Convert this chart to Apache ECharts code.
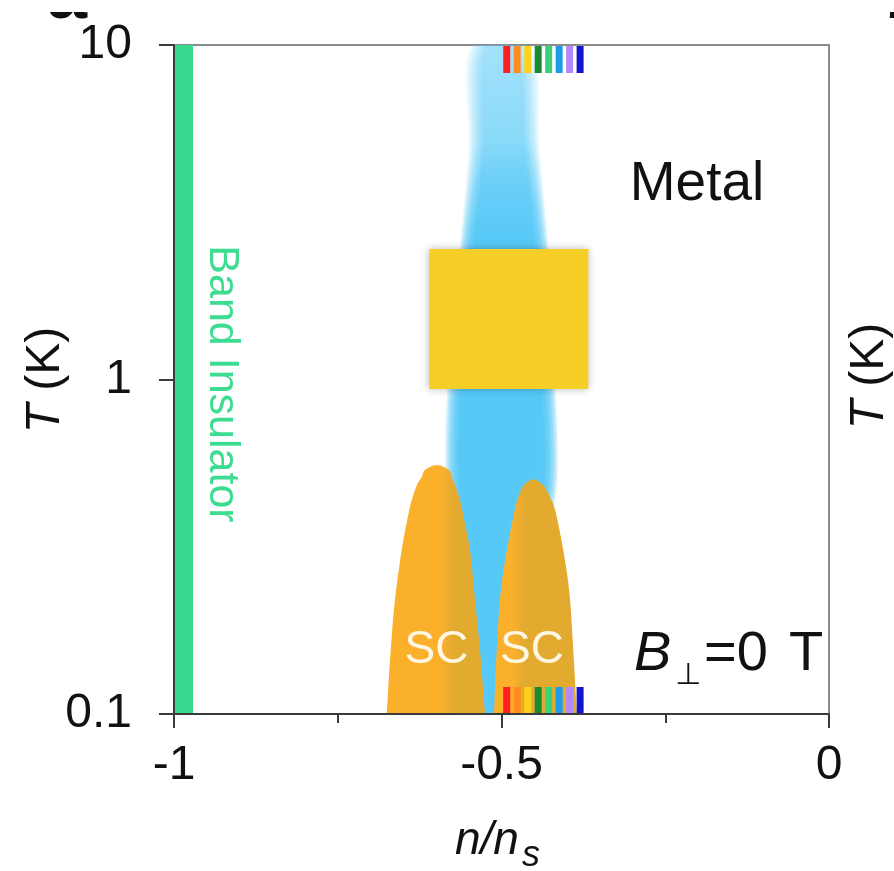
<!DOCTYPE html>
<html>
<head>
<meta charset="utf-8">
<script src="https://cdn.jsdelivr.net/npm/echarts@6/dist/echarts.min.js"></script>
<style>
  html, body { margin: 0; padding: 0; background: #ffffff; }
  #chart { width: 894px; height: 871px; }
</style>
</head>
<body>
<div id="chart"></div>
<script>
// Phase diagram: temperature T vs filling n/ns at B⊥ = 0 T
const FONT = '"Liberation Sans", Arial, Helvetica, sans-serif';

// ---- axes ----
const xMin = -1, xMax = 0, xStep = 0.5;
const yMin = 0.1, yMax = 10;
const yTickLabels = { '0.1': '0.1', '1': '1', '10': '10' };

// ---- band insulator strip (n range) ----
const insulatorN = [-1, -0.971];

// ---- correlated (blue) region: T levels with left / right density edges ----
const blueT     = [10,     4.86,   2.5,    1,      0.5,    0.29,   0.1];
const blueLeft  = [-0.546, -0.550, -0.563, -0.582, -0.585, -0.571, -0.551];
const blueRight = [-0.455, -0.442, -0.429, -0.418, -0.415, -0.434, -0.479];

// ---- superconducting domes: T levels (bottom to top) with left / right edges ----
const scLeftT  = [0.1,     0.155,   0.22,    0.309,   0.38,   0.436,  0.484,  0.511,   0.536,   0.555];
const scLeftLo = [-0.6753, -0.6692, -0.6626, -0.6524, -0.644, -0.637, -0.629, -0.6218, -0.6168, -0.599];
const scLeftHi = [-0.5252, -0.5328, -0.5405, -0.5481, -0.557, -0.5634, -0.571, -0.576, -0.5802, -0.599];

const scRightT  = [0.1,     0.155,   0.2464,  0.389,   0.4516,  0.484,   0.503];
const scRightLo = [-0.5115, -0.5073, -0.4997, -0.482,  -0.4733, -0.4656, -0.4515];
const scRightHi = [-0.3852, -0.3904, -0.398,  -0.4157, -0.4275, -0.4366, -0.4515];

// ---- densities marked by the coloured ticks at top and bottom ----
const markerN = [-0.492, -0.476, -0.460, -0.444, -0.428, -0.412, -0.396, -0.380];
const markerColors = ['#ff1f1f', '#ff8a1e', '#ffd21a', '#178a32', '#3bd17a', '#1c9bea', '#b388ff', '#1414c8'];

// ---- yellow box (n range, T range) ----
const boxN = [-0.6102, -0.3675];
const boxT = [0.937, 2.455];

// ---- in-plot text labels ----
const labelText = ['Metal', 'SC', 'SC', 'Band Insulator'];
const labelN    = [-0.2015, -0.5992, -0.4534, -0.9267];
const labelT    = [3.81, 0.155, 0.155, 0.9695];

// ---- field label anchor (left end) ----
const fieldN = -0.2947;
const fieldT = 0.151;

// styles
const BLUE = [69, 195, 245];
const rgba = (c, a) => `rgba(${c[0]},${c[1]},${c[2]},${a})`;
const labelStyles = [
  { fill: '#111111', fontSize: 55, rotation: 0 },
  { fill: '#fff7e4', fontSize: 46, rotation: 0 },
  { fill: '#fff7e4', fontSize: 46, rotation: 0 },
  { fill: '#3ddc91', fontSize: 43, rotation: -Math.PI / 2 }
];
const domeShades = [
  { light: '#fbb02c', dark: '#e3aa30', s1: 0.55, s2: 0.68 },
  { light: '#fbb02c', dark: '#e3aa30', s1: 0.22, s2: 0.36 }
];

const domes = [
  { T: scLeftT, lo: scLeftLo, hi: scLeftHi },
  { T: scRightT, lo: scRightLo, hi: scRightHi }
];

// Catmull-Rom sampling of an open pixel outline, for a smooth dome edge
function smoothOutline(pts, perSeg) {
  const out = [];
  const n = pts.length;
  const P = i => pts[Math.max(0, Math.min(n - 1, i))];
  for (let i = 0; i < n - 1; i++) {
    const p0 = P(i - 1), p1 = P(i), p2 = P(i + 1), p3 = P(i + 2);
    for (let s = 0; s < perSeg; s++) {
      const t = s / perSeg, t2 = t * t, t3 = t2 * t;
      const f = (a, b, c, d) => 0.5 * ((2 * b) + (-a + c) * t + (2 * a - 5 * b + 4 * c - d) * t2 + (-a + 3 * b - 3 * c + d) * t3);
      out.push([f(p0[0], p1[0], p2[0], p3[0]), f(p0[1], p1[1], p2[1], p3[1])]);
    }
  }
  out.push(pts[n - 1]);
  return out;
}

const chart = echarts.init(document.getElementById('chart'), null, { renderer: 'canvas' });

const option = {
  animation: false,
  backgroundColor: '#ffffff',
  textStyle: { fontFamily: FONT },
  grid: {
    left: 174, right: 65, top: 45, bottom: 157,
    show: true, borderColor: '#8c8c8c', borderWidth: 2, backgroundColor: 'transparent'
  },
  xAxis: {
    type: 'value', min: xMin, max: xMax, interval: xStep, z: 10,
    axisLine: { show: true, onZero: false, lineStyle: { color: '#3a3a3a', width: 2 } },
    axisTick: { show: true, length: 14, lineStyle: { color: '#3a3a3a', width: 2 } },
    minorTick: { show: true, splitNumber: 2, length: 9, lineStyle: { color: '#3a3a3a', width: 2 } },
    splitLine: { show: false },
    axisLabel: {
      margin: 28, fontSize: 48, color: '#111111', fontFamily: FONT,
      formatter: v => (Math.abs(v) < 1e-9 ? '0' : String(v))
    }
  },
  yAxis: {
    type: 'log', logBase: 10, min: yMin, max: yMax, z: 10,
    axisLine: { show: true, onZero: false, lineStyle: { color: '#3a3a3a', width: 2 } },
    axisTick: { show: true, length: 15, lineStyle: { color: '#3a3a3a', width: 2 } },
    minorTick: { show: false },
    splitLine: { show: false },
    axisLabel: {
      margin: 42, fontSize: 48, color: '#111111', fontFamily: FONT,
      formatter: v => {
        const k = String(+v.toPrecision(3));
        return yTickLabels[k] !== undefined ? yTickLabels[k] : '';
      }
    }
  },
  series: [
    // soft blue correlated region
    {
      type: 'custom', z: 1, clip: true,
      data: [[-0.5, 1]],
      renderItem: (params, api) => {
        const layers = 10, step = 1.6, alpha = 0.21;
        const children = [];
        for (let k = 0; k < layers; k++) {
          const inset = k * step;
          const left = [], right = [];
          for (let i = 0; i < blueT.length; i++) {
            const pl = api.coord([blueLeft[i], blueT[i]]);
            const pr = api.coord([blueRight[i], blueT[i]]);
            const mid = (pl[0] + pr[0]) / 2;
            left.push([Math.min(pl[0] + inset, mid - 1), pl[1]]);
            right.push([Math.max(pr[0] - inset, mid + 1), pr[1]]);
          }
          const pts = left.concat(right.reverse());
          children.push({
            type: 'polygon',
            shape: { points: pts, smooth: 0.3 },
            style: {
              fill: {
                type: 'linear', x: 0, y: 0, x2: 0, y2: 1,
                colorStops: [
                  { offset: 0, color: rgba(BLUE, alpha * 0.3) },
                  { offset: 0.15, color: rgba(BLUE, alpha * 0.45) },
                  { offset: 0.3, color: rgba(BLUE, alpha) },
                  { offset: 1, color: rgba(BLUE, alpha) }
                ]
              }
            }
          });
        }
        return { type: 'group', children };
      }
    },
    // band insulator strip
    {
      type: 'custom', z: 2, clip: true,
      data: [[insulatorN[0], yMax, insulatorN[1], yMin]],
      renderItem: (params, api) => {
        const a = api.coord([api.value(0), api.value(1)]);
        const b = api.coord([api.value(2), api.value(3)]);
        return {
          type: 'rect',
          shape: { x: a[0], y: a[1], width: b[0] - a[0], height: b[1] - a[1] },
          style: { fill: '#38d98e' }
        };
      }
    },
    // superconducting domes
    {
      type: 'custom', z: 3, clip: true,
      data: domes.map((d, i) => [d.lo[d.lo.length - 1], d.T[d.T.length - 1], i]),
      renderItem: (params, api) => {
        const d = domes[params.dataIndex];
        const sh = domeShades[params.dataIndex];
        const edge = [];
        for (let k = 0; k < d.T.length; k++) edge.push(api.coord([d.lo[k], d.T[k]]));
        for (let k = d.T.length - 2; k >= 0; k--) edge.push(api.coord([d.hi[k], d.T[k]]));
        const pts = smoothOutline(edge, 8);
        return {
          type: 'polygon',
          shape: { points: pts },
          style: {
            fill: {
              type: 'linear', x: 0, y: 0, x2: 1, y2: 0,
              colorStops: [
                { offset: 0, color: sh.light },
                { offset: sh.s1, color: sh.light },
                { offset: sh.s2, color: sh.dark },
                { offset: 1, color: sh.dark }
              ]
            }
          }
        };
      }
    },
    // coloured density markers at top and bottom edges
    {
      type: 'custom', z: 4, clip: true,
      data: markerN.map((n, i) => [n, yMin, i]),
      renderItem: (params, api) => {
        const n = api.value(0);
        const top = api.coord([n, yMax]);
        const bot = api.coord([n, yMin]);
        const w = 7, h = 27;
        const fill = markerColors[params.dataIndex];
        return {
          type: 'group',
          children: [
            { type: 'rect', shape: { x: top[0] - w / 2, y: top[1] + 1, width: w, height: h }, style: { fill } },
            { type: 'rect', shape: { x: bot[0] - w / 2, y: bot[1] - h, width: w, height: h }, style: { fill } }
          ]
        };
      }
    },
    // yellow box
    {
      type: 'custom', z: 5, clip: true,
      data: [[boxN[0], boxT[1], boxN[1], boxT[0]]],
      renderItem: (params, api) => {
        const a = api.coord([api.value(0), api.value(1)]);
        const b = api.coord([api.value(2), api.value(3)]);
        return {
          type: 'rect',
          shape: { x: a[0], y: a[1], width: b[0] - a[0], height: b[1] - a[1] },
          style: { fill: '#f5cf27', shadowBlur: 8, shadowColor: 'rgba(0,0,0,0.28)' }
        };
      }
    },
    // text labels inside the plot
    {
      type: 'custom', z: 6, clip: false,
      data: labelText.map((t, i) => [labelN[i], labelT[i], i]),
      renderItem: (params, api) => {
        const i = params.dataIndex;
        const p = api.coord([api.value(0), api.value(1)]);
        const st = labelStyles[i];
        return {
          type: 'text', x: p[0], y: p[1], rotation: st.rotation,
          style: {
            text: labelText[i], fill: st.fill, fontSize: st.fontSize, fontFamily: FONT,
            align: 'center', verticalAlign: 'middle'
          }
        };
      }
    },
    // field label B⊥=0 T
    {
      type: 'custom', z: 6, clip: false,
      data: [[fieldN, fieldT]],
      renderItem: (params, api) => {
        const p = api.coord([api.value(0), api.value(1)]);
        return {
          type: 'group', x: p[0], y: p[1],
          children: [
            { type: 'text', x: -2, y: 0, style: { text: 'B', fill: '#111', fontSize: 56, fontStyle: 'italic', fontFamily: FONT, align: 'left', verticalAlign: 'middle' } },
            { type: 'text', x: 39, y: 22, style: { text: '\u22A5', fill: '#111', fontSize: 30, fontFamily: '"DejaVu Sans", sans-serif', align: 'left', verticalAlign: 'middle' } },
            { type: 'text', x: 68, y: 0, style: { text: '=0', fill: '#111', fontSize: 56, fontFamily: FONT, align: 'left', verticalAlign: 'middle' } },
            { type: 'text', x: 153, y: 0, style: { text: 'T', fill: '#111', fontSize: 56, fontFamily: FONT, align: 'left', verticalAlign: 'middle' } }
          ]
        };
      }
    }
  ],
  graphic: [
    // y-axis title T (K)
    {
      type: 'text', x: 46, y: 380, rotation: Math.PI / 2,
      style: {
        text: '{i|T} (K)', fill: '#111', fontSize: 48, fontFamily: FONT, align: 'center', verticalAlign: 'middle',
        rich: { i: { fontSize: 48, fontStyle: 'italic', fontFamily: FONT, fill: '#111' } }
      }
    },
    // x-axis title n/ns
    { type: 'text', left: 455, top: 818, style: { text: 'n/n', fill: '#111', fontSize: 46, fontStyle: 'italic', fontFamily: FONT } },
    { type: 'text', left: 522, top: 838, style: { text: 's', fill: '#111', fontSize: 36, fontStyle: 'italic', fontFamily: FONT } },
    // panel letters of the neighbouring panels, mostly outside the frame
    { type: 'text', x: 47, y: -2, z: 1, style: { text: 'a', fill: '#111', fontSize: 72, fontWeight: 'bold', fontFamily: FONT, align: 'left', verticalAlign: 'middle' } },
    { type: 'text', x: 885, y: -2, z: 1, style: { text: 'b', fill: '#111', fontSize: 72, fontWeight: 'bold', fontFamily: FONT, align: 'left', verticalAlign: 'middle' } },
    { type: 'rect', z: 2, shape: { x: 0, y: 0, width: 894, height: 12 }, style: { fill: '#ffffff' } },
    // y-axis title of the neighbouring panel
    {
      type: 'text', x: 870, y: 376, rotation: Math.PI / 2,
      style: {
        text: '{i|T} (K)', fill: '#111', fontSize: 48, fontFamily: FONT, align: 'center', verticalAlign: 'middle',
        rich: { i: { fontSize: 48, fontStyle: 'italic', fontFamily: FONT, fill: '#111' } }
      }
    }
  ]
};

chart.setOption(option);
</script>
</body>
</html>
